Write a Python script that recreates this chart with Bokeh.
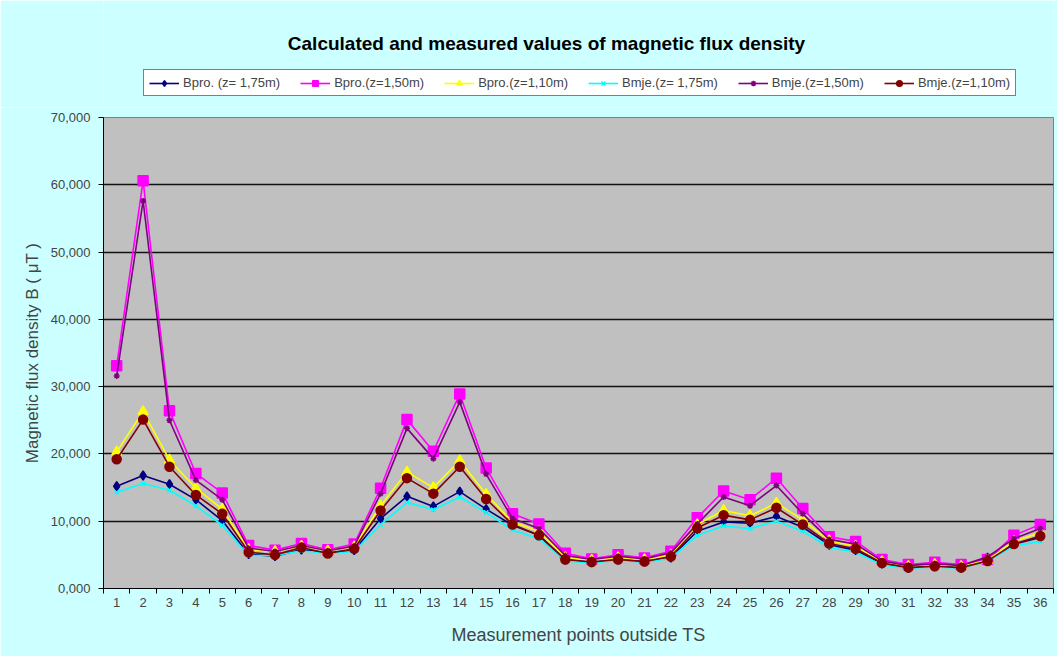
from bokeh.plotting import figure
from bokeh.layouts import column
from bokeh.models import Range1d, FixedTicker, Legend, LegendItem, Label
from bokeh.embed import file_html
from bokeh.resources import INLINE

points = list(range(1, 37))

bpro_175 = [15.2, 16.8, 15.5, 13.2, 10.1, 5.1, 4.8, 5.8, 5.3, 5.7, 10.4, 13.7, 12.2, 14.4, 11.8, 9.4, 7.9, 4.3,
            3.9, 4.3, 4.0, 4.6, 8.5, 9.9, 9.7, 10.7, 9.1, 6.5, 5.7, 3.7, 3.1, 3.3, 3.1, 4.6, 6.6, 7.6]
bpro_150 = [33.1, 60.6, 26.4, 17.1, 14.2, 6.4, 5.7, 6.7, 5.75, 6.6, 14.9, 25.1, 20.4, 28.9, 17.9, 11.1, 9.6, 5.25,
            4.4, 5.0, 4.55, 5.55, 10.5, 14.5, 13.2, 16.4, 11.9, 7.7, 7.0, 4.3, 3.55, 3.9, 3.55, 4.3, 7.9, 9.5]
bpro_110 = [20.3, 26.3, 19.1, 14.9, 11.8, 5.8, 5.5, 6.3, 5.6, 6.2, 12.3, 17.3, 15.0, 19.0, 14.0, 9.9, 8.5, 4.6,
            4.2, 4.6, 4.3, 5.0, 9.5, 11.6, 10.8, 12.7, 10.2, 7.1, 6.3, 4.0, 3.3, 3.6, 3.3, 4.2, 7.0, 8.3]
bmje_175 = [14.3, 15.6, 14.6, 12.3, 9.4, 4.9, 4.9, 5.6, 5.2, 5.5, 9.5, 12.8, 11.7, 13.6, 11.3, 8.7, 7.4, 4.1,
            3.8, 4.2, 3.9, 4.5, 7.9, 9.3, 8.9, 10.0, 8.5, 6.1, 5.4, 3.5, 3.0, 3.2, 3.0, 4.1, 6.3, 7.0]
bmje_150 = [31.6, 57.6, 25.0, 16.1, 13.2, 6.0, 5.5, 6.4, 5.6, 6.3, 14.1, 23.8, 19.3, 27.7, 17.0, 10.4, 8.9, 4.9,
            4.3, 4.8, 4.4, 5.3, 9.6, 13.6, 12.3, 15.3, 11.1, 7.3, 6.6, 4.1, 3.4, 3.7, 3.4, 4.7, 7.4, 8.9]
bmje_110 = [19.2, 25.1, 18.1, 13.9, 11.1, 5.4, 5.0, 6.1, 5.2, 5.9, 11.6, 16.4, 14.1, 18.1, 13.3, 9.5, 7.9, 4.3,
            3.95, 4.3, 4.0, 4.75, 9.0, 10.9, 10.2, 12.0, 9.5, 6.7, 5.9, 3.8, 3.1, 3.3, 3.1, 4.1, 6.6, 7.8]

series_names = ["Bpro. (z= 1,75m)", "Bpro.(z=1,50m)", "Bpro.(z=1,10m)",
                "Bmje.(z= 1,75m)", "Bmje.(z=1,50m)", "Bmje.(z=1,10m)"]
series_values = [bpro_175, bpro_150, bpro_110, bmje_175, bmje_150, bmje_110]
series_colors = ["#000080", "#FF00FF", "#FFFF00", "#00FFFF", "#800080", "#800000"]
series_markers = ["diamond", "square", "triangle", "x", "asterisk", "circle"]
series_sizes = [9, 10, 10, 6, 6, 9]

y_ticks = [0, 10, 20, 30, 40, 50, 60, 70]
y_tick_labels = ["0,000", "10,000", "20,000", "30,000", "40,000", "50,000", "60,000", "70,000"]

FONT = "Liberation Sans"
BG = "#CCFFFF"

# ---------- header (title + legend) ----------
top = figure(width=1057, height=107, output_backend="svg", toolbar_location=None,
             x_range=Range1d(0.5, 36.5), y_range=Range1d(0, 70), x_axis_type=None, y_axis_type=None,
             min_border_left=0, min_border_right=0, min_border_top=0, min_border_bottom=0)
top.background_fill_color = BG
top.border_fill_color = BG
top.outline_line_color = None
top.xgrid.grid_line_color = None
top.ygrid.grid_line_color = None

title = Label(x=443, y=64, x_units="screen", y_units="screen",
              text="Calculated and measured values of magnetic flux density",
              text_font=FONT, text_font_size="19px", text_font_style="bold",
              text_align="center", text_baseline="middle", text_color="black")
top.add_layout(title)

# ---------- main chart ----------
p = figure(width=1057, height=549, output_backend="svg", toolbar_location=None,
           x_range=Range1d(0.5, 36.5), y_range=Range1d(0, 70),
           min_border_left=103, min_border_right=4, min_border_top=10, min_border_bottom=68)
p.background_fill_color = "#C0C0C0"
p.border_fill_color = BG
p.outline_line_color = "#808080"

p.xaxis.ticker = FixedTicker(ticks=points, minor_ticks=[i + 0.5 for i in range(0, 37)])
p.xaxis.major_tick_out = 0
p.xaxis.major_tick_in = 0
p.xaxis.minor_tick_out = 5
p.xaxis.minor_tick_in = 0
p.xaxis.minor_tick_line_color = "black"
p.xaxis.axis_label = "Measurement points outside TS"
p.xaxis.axis_label_text_font = FONT
p.xaxis.axis_label_text_font_style = "normal"
p.xaxis.axis_label_text_font_size = "18px"
p.xaxis.axis_label_standoff = 15
p.xaxis.major_label_text_font = FONT
p.xaxis.major_label_text_font_size = "13px"
p.xaxis.major_label_standoff = 4
p.xaxis.axis_line_color = "black"

p.yaxis.ticker = FixedTicker(ticks=y_ticks, minor_ticks=[])
p.yaxis.major_label_overrides = {t: l for t, l in zip(y_ticks, y_tick_labels)}
p.yaxis.major_tick_out = 5
p.yaxis.major_tick_in = 0
p.yaxis.major_label_text_font = FONT
p.yaxis.major_label_text_font_size = "13px"
p.yaxis.major_label_standoff = 8
p.yaxis.axis_label = "Magnetic flux density B ( \u03bcT )"
p.yaxis.axis_label_text_font = FONT
p.yaxis.axis_label_text_font_style = "normal"
p.yaxis.axis_label_text_font_size = "17px"
p.yaxis.axis_label_standoff = 6
p.yaxis.axis_line_color = "black"

p.xgrid.grid_line_color = None
p.ygrid.grid_line_color = "#111111"
p.ygrid.grid_line_width = 1.6

items = []
for name, vals, col, mk, sz in zip(series_names, series_values, series_colors, series_markers, series_sizes):
    p.line(points, vals, line_color=col, line_width=1.6)
    p.scatter(points, vals, marker=mk, size=sz, fill_color=col, line_color=col, line_width=1.5)
    # hidden copies in the header, used only for the legend swatches
    l1 = top.line(points, vals, line_color=col, line_width=1.6, visible=False)
    l2 = top.scatter(points, vals, marker=mk, size=sz - 1, fill_color=col, line_color=col,
                     line_width=1.5, visible=False)
    items.append(LegendItem(label=name, renderers=[l1, l2]))

legend = Legend(items=items, orientation="horizontal", location=(40, 11))
legend.label_text_font = FONT
legend.label_text_font_size = "13px"
legend.glyph_width = 30
legend.glyph_height = 14
legend.label_standoff = 4
legend.spacing = 20
legend.padding = 5
legend.margin = 0
legend.border_line_color = "black"
legend.border_line_width = 1.5
legend.background_fill_color = "white"
legend.background_fill_alpha = 1
legend.inactive_fill_alpha = 0
legend.label_height = 14
top.add_layout(legend, "center")

layout = column(top, p, spacing=0)
open("out.html", "w").write(file_html(layout, INLINE))
